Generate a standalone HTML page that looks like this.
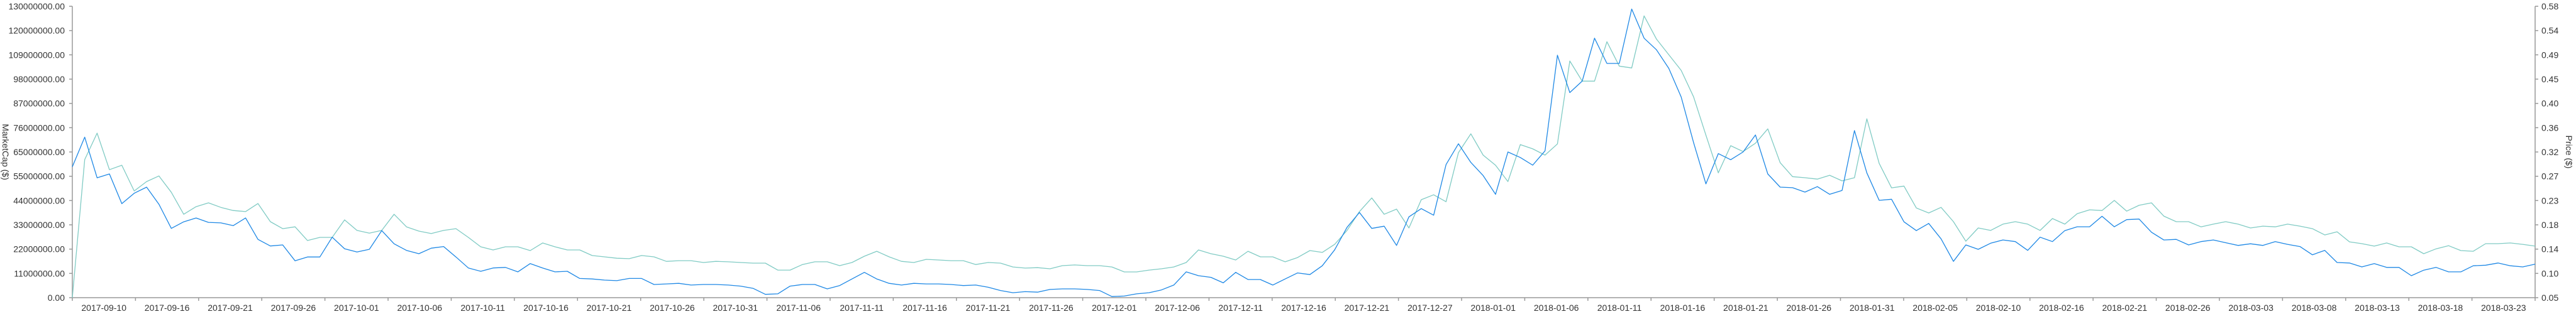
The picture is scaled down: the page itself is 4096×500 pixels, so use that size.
<!DOCTYPE html>
<html>
<head>
<meta charset="utf-8">
<style>
  html,body{margin:0;padding:0;background:#fff;}
  svg{display:block;}
  text{font-family:"Liberation Sans",sans-serif;font-size:14px;fill:#333;}
</style>
</head>
<body>
<svg id="chart" width="4096" height="500" viewBox="0 0 4096 500" xmlns="http://www.w3.org/2000/svg">
  <g id="grid-layer"></g>
  <g id="axes-layer"></g>
  <g id="series-layer"></g>
</svg>
<script>
// ---- data ----
const tickLabels = ["2017-09-10","2017-09-16","2017-09-21","2017-09-26","2017-10-01","2017-10-06","2017-10-11","2017-10-16","2017-10-21","2017-10-26","2017-10-31","2017-11-06","2017-11-11","2017-11-16","2017-11-21","2017-11-26","2017-12-01","2017-12-06","2017-12-11","2017-12-16","2017-12-21","2017-12-27","2018-01-01","2018-01-06","2018-01-11","2018-01-16","2018-01-21","2018-01-26","2018-01-31","2018-02-05","2018-02-10","2018-02-16","2018-02-21","2018-02-26","2018-03-03","2018-03-08","2018-03-13","2018-03-18","2018-03-23"];
const leftTicks = ["0.00","11000000.00","22000000.00","33000000.00","44000000.00","55000000.00","65000000.00","76000000.00","87000000.00","98000000.00","109000000.00","120000000.00","130000000.00"];
const rightTicks = ["0.05","0.10","0.14","0.18","0.23","0.27","0.32","0.36","0.40","0.45","0.49","0.54","0.58"];
// market cap in millions of $
const marketCap = [0,61.6,73.4,57.1,59.1,47.6,51.8,54.3,47.0,37.2,40.6,42.3,40.3,38.9,38.4,42.0,33.9,30.8,31.6,25.5,
26.9,26.9,34.7,30.0,28.8,30.0,37.2,31.6,29.7,28.6,30.0,30.8,26.9,22.7,21.3,22.7,22.7,21.0,24.4,22.7,
21.3,21.3,18.8,18.2,17.6,17.4,18.8,18.2,16.2,16.5,16.5,15.7,16.2,16.0,15.7,15.4,15.4,12.3,12.3,14.8,
16.0,16.0,14.3,15.7,18.5,20.7,18.2,16.2,15.7,17.1,16.8,16.5,16.5,14.8,15.7,15.4,13.7,13.2,13.4,12.9,
14.3,14.6,14.3,14.3,13.7,11.5,11.5,12.3,12.9,13.7,15.7,21.3,19.6,18.5,16.8,20.7,18.2,18.2,16.0,17.9,
21.0,20.2,23.8,30.0,38.4,44.5,37.2,39.5,31.1,43.7,45.9,42.8,64.7,73.1,63.6,59.1,51.8,68.3,66.4,63.6,
68.6,105.6,96.6,96.6,114.2,103.3,102.5,125.7,115.4,108.4,101.4,89.6,72.5,55.7,67.8,65.2,68.9,75.3,60.2,54.0,
53.5,52.9,54.6,52.1,53.5,79.8,59.9,49.0,49.8,40.0,37.8,40.3,33.9,25.2,31.1,30.0,32.8,33.9,32.8,30.0,
35.3,32.8,37.5,39.2,38.9,43.4,38.6,41.2,42.3,36.4,33.9,33.9,31.6,32.8,33.9,32.8,31.1,31.9,31.6,32.8,
31.9,30.8,28.0,29.4,24.9,24.1,23.0,24.4,22.7,22.7,19.6,21.8,23.2,21.0,20.7,24.1,24.1,24.4,23.8,23.0];
// price in $
const price = [0.288,0.342,0.268,0.275,0.221,0.240,0.251,0.220,0.176,0.188,0.195,0.187,0.186,0.181,0.195,0.156,0.144,0.146,0.117,0.124,
0.124,0.160,0.139,0.133,0.138,0.172,0.148,0.136,0.130,0.140,0.143,0.124,0.104,0.098,0.104,0.105,0.097,0.112,0.104,0.097,
0.098,0.085,0.084,0.082,0.081,0.085,0.085,0.074,0.075,0.076,0.073,0.074,0.074,0.073,0.071,0.067,0.056,0.057,0.071,0.074,
0.074,0.066,0.072,0.084,0.096,0.084,0.076,0.073,0.076,0.075,0.075,0.074,0.072,0.073,0.069,0.063,0.059,0.061,0.060,0.065,
0.066,0.066,0.065,0.063,0.052,0.053,0.057,0.059,0.064,0.073,0.097,0.090,0.087,0.077,0.096,0.083,0.083,0.073,0.084,0.095,
0.092,0.108,0.137,0.178,0.205,0.176,0.180,0.145,0.197,0.212,0.200,0.292,0.330,0.296,0.272,0.238,0.315,0.305,0.291,0.317,
0.491,0.423,0.444,0.522,0.476,0.476,0.575,0.522,0.501,0.467,0.415,0.332,0.257,0.312,0.301,0.315,0.346,0.275,0.251,0.250,
0.242,0.252,0.238,0.245,0.354,0.277,0.227,0.229,0.188,0.172,0.185,0.157,0.116,0.146,0.138,0.149,0.155,0.152,0.136,0.160,
0.152,0.172,0.179,0.179,0.198,0.179,0.192,0.193,0.169,0.155,0.156,0.146,0.152,0.155,0.150,0.145,0.148,0.145,0.152,0.147,
0.143,0.128,0.136,0.114,0.113,0.106,0.112,0.105,0.105,0.090,0.100,0.105,0.097,0.097,0.108,0.109,0.113,0.108,0.106,0.111];

// ---- layout ----
const X0 = 115, X1 = 4031, Y0 = 474, Y1 = 10;
const capMin = 0, capMax = 130, priceMin = 0.05, priceMax = 0.58;
const NS = "http://www.w3.org/2000/svg";
function xIdx(i){ return X0 + (X1 - X0) * i / (price.length - 1); }
function yCap(v){ return Y0 - (v - capMin) / (capMax - capMin) * (Y0 - Y1); }
function yPrice(v){ return Y0 - (v - priceMin) / (priceMax - priceMin) * (Y0 - Y1); }
function mk(tag, attrs, parent){
  const el = document.createElementNS(NS, tag);
  for (const k in attrs) el.setAttribute(k, attrs[k]);
  parent.appendChild(el);
  return el;
}
const axes = document.getElementById('axes-layer');
const series = document.getElementById('series-layer');
const AX = '#999';

// left axis
let la = mk('line', {x1:X0, y1:Y1, x2:X0, y2:Y0, stroke:AX, 'stroke-width':1.5}, axes);


leftTicks.forEach((t, i) => {
  const y = Y0 - (Y0 - Y1) * i / (leftTicks.length - 1);
  const tk = mk('line', {x1:X0-5, y1:y, x2:X0, y2:y, stroke:AX, 'stroke-width':1.5}, axes);
  
  
  const tx = mk('text', {x:X0-12, y:y+5, 'text-anchor':'end'}, axes);
  
  
  tx.textContent = t;
});
let lt = mk('text', {x:0, y:0, 'text-anchor':'middle', transform:'translate(4,242) rotate(90)'}, axes);


lt.textContent = 'MarketCap ($)';

// right axis
let ra = mk('line', {x1:X1, y1:Y1, x2:X1, y2:Y0, stroke:AX, 'stroke-width':1.5}, axes);


rightTicks.forEach((t, i) => {
  const y = Y0 - (Y0 - Y1) * i / (rightTicks.length - 1);
  const tk = mk('line', {x1:X1, y1:y, x2:X1+5, y2:y, stroke:AX, 'stroke-width':1.5}, axes);
  
  
  const tx = mk('text', {x:X1+10, y:y+5, 'text-anchor':'start'}, axes);
  
  
  tx.textContent = t;
});
let rt = mk('text', {x:0, y:0, 'text-anchor':'middle', transform:'translate(4080,242) rotate(90)'}, axes);


rt.textContent = 'Price ($)';

// x axis
let xa = mk('line', {x1:X0, y1:Y0, x2:X1, y2:Y0, stroke:AX, 'stroke-width':1.5}, axes);


const nT = tickLabels.length;
for (let k = 0; k <= nT; k++) {
  const x = X0 + (X1 - X0) * k / nT;
  const tk = mk('line', {x1:x, y1:Y0, x2:x, y2:Y0+5, stroke:AX, 'stroke-width':1.5}, axes);
  
  
}
tickLabels.forEach((t, k) => {
  const x = X0 + (X1 - X0) * (k + 0.5) / nT;
  const tx = mk('text', {x:x, y:495, 'text-anchor':'middle'}, axes);
  
  
  tx.textContent = t;
});

// series
const capPts = marketCap.map((v, i) => xIdx(i).toFixed(1) + ',' + yCap(v).toFixed(1)).join(' ');
const capLine = mk('polyline', {points:capPts, fill:'none', stroke:'#80CBC4', 'stroke-width':1.3, 'stroke-linejoin':'round'}, series);



const pricePts = price.map((v, i) => xIdx(i).toFixed(1) + ',' + yPrice(v).toFixed(1)).join(' ');
const priceLine = mk('polyline', {points:pricePts, fill:'none', stroke:'#1E88E5', 'stroke-width':1.3, 'stroke-linejoin':'round'}, series);


</script>
</body>
</html>
